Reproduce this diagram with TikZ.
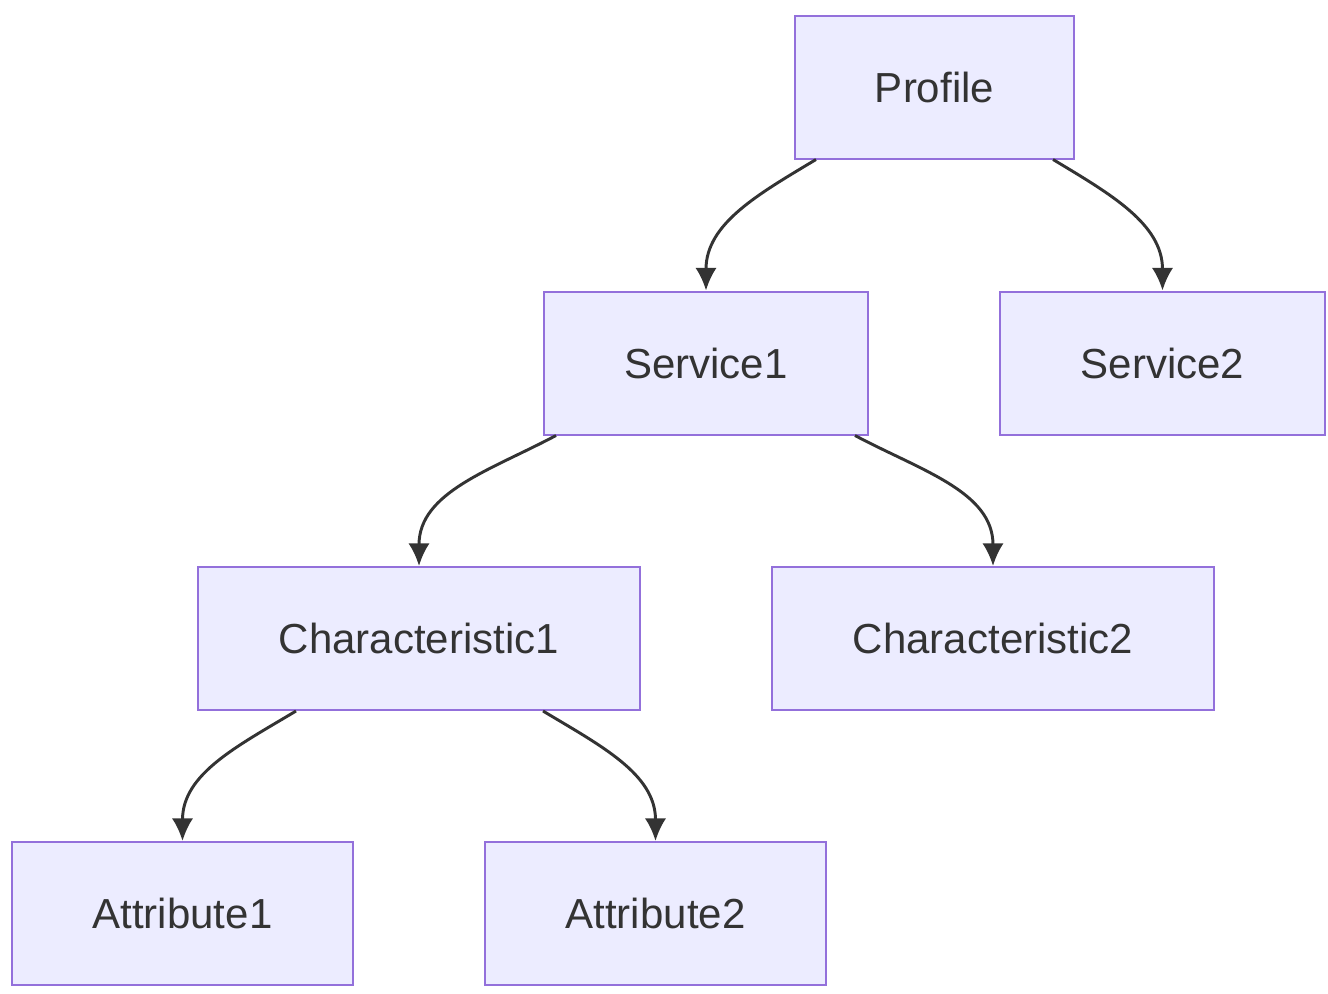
\documentclass[tikz,border=0pt]{standalone}
\usepackage{fontspec}
\setmainfont{Liberation Sans}
\usetikzlibrary{arrows.meta}
\definecolor{boxfill}{HTML}{ECECFF}
\definecolor{boxline}{HTML}{9370DB}
\definecolor{edgeline}{HTML}{333333}

\begin{document}
\begin{tikzpicture}[x=0.75pt, y=0.75pt,
        box/.style={draw=boxline, fill=boxfill, line width=1.5pt, inner sep=0pt,
            minimum height=107.25pt, text=edgeline, font=\fontsize{31.5}{37}\selectfont},
        link/.style={draw=edgeline, line width=2.2pt, ->, >={Latex[length=17pt,width=16pt]}}]
    \useasboundingbox (0,0) rectangle (1328,-993);

    \node[box, minimum width=209.25pt] (profile) at (934.5,-87) {Profile};
    \node[box, minimum width=243pt] (service1) at (706,-363) {Service1};
    \node[box, minimum width=243.75pt] (service2) at (1162.5,-363) {Service2};
    \node[box, minimum width=331.5pt] (char1) at (419,-638.5) {Characteristic1};
    \node[box, minimum width=331.5pt] (char2) at (993,-638.5) {Characteristic2};
    \node[box, minimum width=255.75pt] (attr1) at (182.5,-913.5) {Attribute1};
    \node[box, minimum width=255.75pt] (attr2) at (655.5,-913.5) {Attribute2};

    \draw[link] ([xshift=-88.9pt]profile.south) to[out=211, in=90] (service1.north);
    \draw[link] ([xshift=88.9pt]profile.south) to[out=-31, in=90] (service2.north);
    \draw[link] ([xshift=-112.5pt]service1.south) to[out=208, in=90] (char1.north);
    \draw[link] ([xshift=111.75pt]service1.south) to[out=-28, in=90] (char2.north);
    \draw[link] ([xshift=-92.25pt]char1.south) to[out=211, in=90] (attr1.north);
    \draw[link] ([xshift=93pt]char1.south) to[out=-31, in=90] (attr2.north);
\end{tikzpicture}
\end{document}
